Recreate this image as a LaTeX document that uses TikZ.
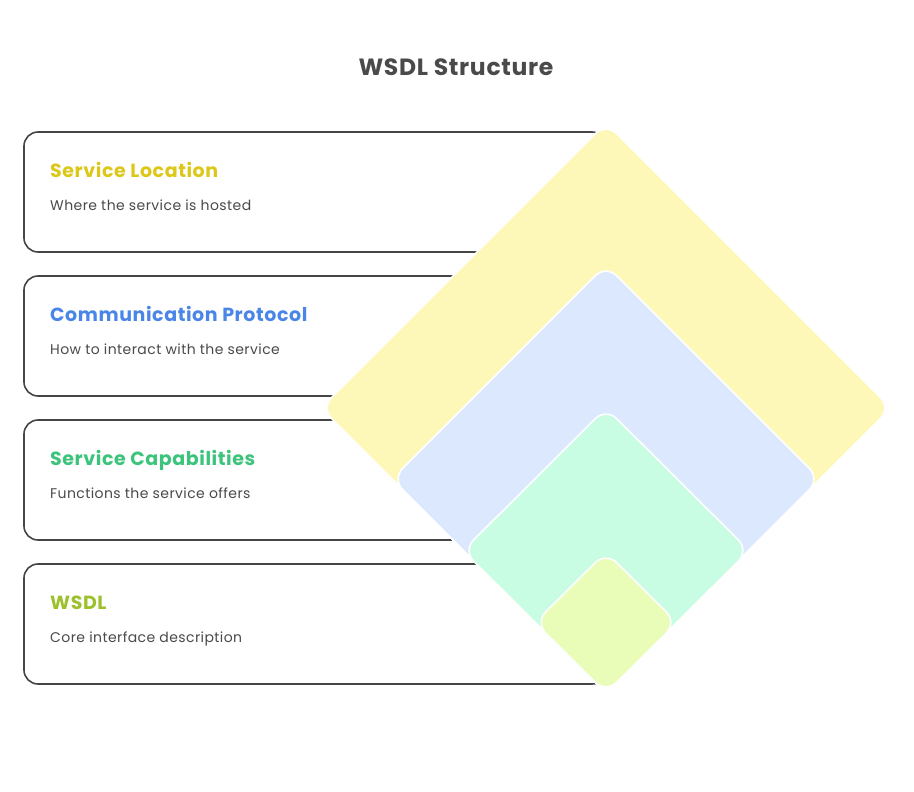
\documentclass[tikz,border=0pt]{standalone}
\usepackage{fontspec}
\setmainfont{Poppins}[LetterSpace=3]
\definecolor{txt}{HTML}{4A4A4A}
\definecolor{edge}{HTML}{464646}
\definecolor{cyel}{HTML}{DCC81A}
\definecolor{cblu}{HTML}{4A86E8}
\definecolor{cgrn}{HTML}{3CC47C}
\definecolor{clim}{HTML}{9CC12C}
\definecolor{fyel}{HTML}{FEF8B8}
\definecolor{fblu}{HTML}{DCE8FE}
\definecolor{fgrn}{HTML}{C8FCE3}
\definecolor{flim}{HTML}{EAFDB8}
\tikzset{
  card/.style={draw=edge, line width=1.6pt, rounded corners=14pt, fill=white},
  layer/.style={draw=white, line width=1.6pt, rounded corners=15pt},
  head/.style={anchor=base west, inner sep=0pt, font=\fontsize{19}{22}\selectfont\bfseries},
  body/.style={anchor=base west, inner sep=0pt, text=txt, font=\fontsize{14}{17}\selectfont},
}
\begin{document}
\begin{tikzpicture}[x=1pt,y=-1pt]
\useasboundingbox (0,0) rectangle (914,792);
\node[anchor=base, inner sep=0pt, text=txt, font=\fontsize{23.5}{27}\selectfont\bfseries] (title) at (456,76) {WSDL Structure};
% cards
\path[card] (24,132) rectangle (606,252);
\path[card] (24,276) rectangle (606,396);
\path[card] (24,420) rectangle (606,540);
\path[card] (24,564) rectangle (606,684);
\node[head, text=cyel] (h1) at (50,177) {Service Location};
\node[body] (b1) at (50,210) {Where the service is hosted};
\node[head, text=cblu] (h2) at (50,321) {Communication Protocol};
\node[body] (b2) at (50,354) {How to interact with the service};
\node[head, text=cgrn] (h3) at (50,465) {Service Capabilities};
\node[body] (b3) at (50,498) {Functions the service offers};
\node[head, text=clim] (h4) at (50,609) {WSDL};
\node[body] (b4) at (50,642) {Core interface description};
% layers
\path[layer, fill=fyel] (606,123) -- (891,408) -- (606,693) -- (321,408) -- cycle;
\path[layer, fill=fblu] (606,265) -- (820,479) -- (606,693) -- (392,479) -- cycle;
\path[layer, fill=fgrn] (606,408) -- (749,550.5) -- (606,693) -- (463,550.5) -- cycle;
\path[layer, fill=flim] (606,552) -- (677,622.5) -- (606,693) -- (535,622.5) -- cycle;
\end{tikzpicture}
\end{document}
